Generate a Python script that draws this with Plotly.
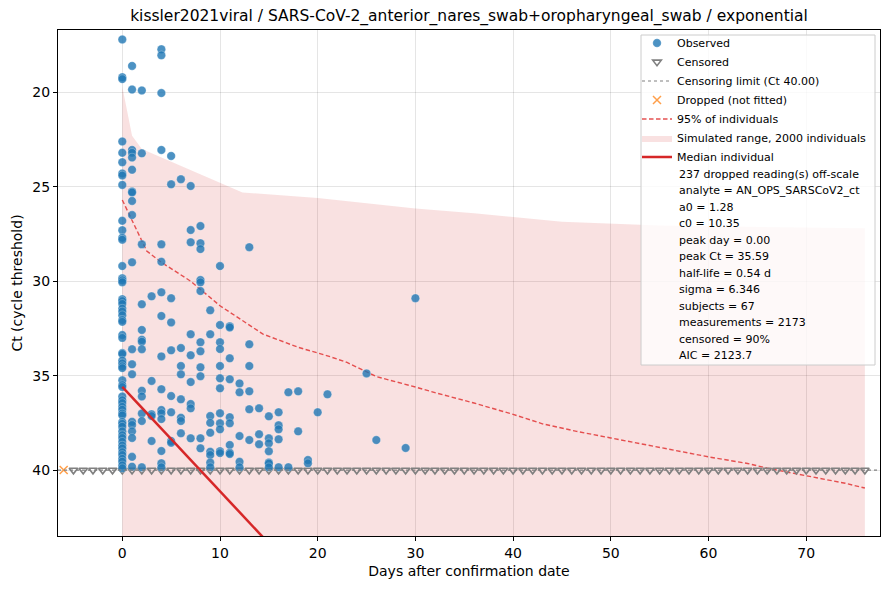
import plotly.graph_objects as go

# Chart text
TITLE = "kissler2021viral / SARS-CoV-2_anterior_nares_swab+oropharyngeal_swab / exponential"
X_TITLE = "Days after confirmation date"
Y_TITLE = "Ct (cycle threshold)"
CENSOR_LIMIT = 40.0

# Observed Ct readings, one list per day after confirmation
ct_d0 = [17.2, 19.2, 19.3, 22.6, 23.2, 23.7, 24.3, 24.4, 24.9, 26.8, 27.3, 27.7, 27.8,
         29.2, 29.85, 29.95, 30.05, 30.95, 31.05, 31.2, 31.45, 31.6, 31.8, 32.05, 32.15,
         32.85, 33.0, 33.8, 33.85, 34.2, 34.35, 34.5, 34.6, 35.25, 35.5, 35.6, 36.1, 36.3,
         36.45, 36.65, 36.8, 37.0, 37.1, 37.45, 37.55, 37.7, 37.95, 38.15, 38.3, 38.5,
         38.7, 38.85, 39.05, 39.2, 39.4, 39.55, 39.75, 39.9]
ct_d1 = [18.6, 19.85, 23.05, 23.2, 23.45, 24.1, 25.25, 25.3, 25.75, 26.5, 29.0, 33.6,
         34.4, 34.93, 37.44, 37.61, 37.95, 38.3, 39.3, 39.82]
ct_d2 = [19.9, 23.23, 28.05, 31.22, 32.58, 33.1, 33.2, 33.6, 35.8, 36.1, 37.0, 37.4, 39.85]
ct_d3 = [30.8, 35.28, 37.05, 37.14, 38.46]
ct_d4 = [17.72, 18.04, 20.04, 23.05, 28.05, 28.97, 30.59, 31.84, 33.98, 35.72, 36.82,
         36.99, 37.3, 38.99, 39.64, 39.85]
ct_d5 = [23.37, 24.87, 30.9, 32.18, 33.66, 36.08, 36.94, 38.46, 38.55]
ct_d6 = [24.6, 33.54, 34.49, 34.93, 36.25, 37.23, 37.4, 38.05]
ct_d7 = [24.96, 27.29, 27.94, 32.81, 33.92, 35.34, 36.5, 36.73, 38.32]
ct_d8 = [27.08, 27.99, 28.3, 29.94, 30.06, 30.52, 33.23, 33.71, 34.56, 35.03, 38.32, 38.85]
ct_d9 = [31.54, 32.81, 37.14, 37.5, 38.02, 39.03, 39.2, 39.6, 39.85]
ct_d10 = [29.2, 32.32, 33.23, 33.59, 34.49, 35.14, 35.67, 36.99, 37.52, 37.84, 39.0, 39.1]
ct_d11 = [32.39, 32.45, 34.08, 35.19, 37.2, 37.52, 38.67, 39.08, 39.15]
ct_d12 = [35.41, 35.88, 38.2, 39.56, 39.85]
ct_d13 = [28.2, 33.34, 34.49, 35.83, 36.78, 38.41]
ct_d14 = [36.73, 38.1, 38.63]
ct_d15 = [37.15, 38.32, 38.58, 39.0, 39.6, 39.65, 39.85]
ct_d16 = [36.94, 37.63, 37.84, 38.37, 39.85]
ct_d17 = [35.88, 39.85]
ct_d18 = [35.83, 37.95]
ct_d19 = [39.47, 39.64]
ct_d20 = [36.94]
ct_d21 = [35.99]
ct_d25 = [34.88]
ct_d26 = [38.41]
ct_d29 = [38.83]
ct_d30 = [30.9]

# Censored readings sit on the limit, one per day
censored_days = list(range(-5, 77))

# Dropped reading (not fitted)
dropped_days = [-6]
dropped_ct = [40.0]

# Simulated individuals: range (top edge read off, bottom edge off-scale)
sim_days = [0, 1, 2, 12.3, 20, 30, 36, 45, 55, 76]
sim_top_ct = [19.7, 22.3, 23.0, 25.3, 25.6, 26.15, 26.4, 26.85, 27.05, 27.2]
sim_bottom_ct = [60, 60, 60, 60, 60, 60, 60, 60, 60, 60]

# 95% of individuals curve
p95_days = [0, 1, 2.5, 4, 7, 10, 12, 14.4, 18, 21, 23, 26, 30, 32, 36, 40, 43, 46.5,
            50, 52, 56, 60, 64, 66, 70, 74, 76]
p95_ct = [25.7, 26.8, 28.4, 29.0, 30.0, 31.3, 32.0, 32.8, 33.5, 33.95, 34.3, 35.05, 35.6,
          35.9, 36.45, 37.05, 37.55, 37.95, 38.3, 38.5, 38.9, 39.3, 39.65, 39.9, 40.3,
          40.7, 40.95]

# Median individual
median_days = [0, 20]
median_ct = [35.59, 46.65]

# Fit summary shown under the legend entries
fit_notes = [
    "237 dropped reading(s) off-scale",
    "analyte = AN_OPS_SARSCoV2_ct",
    "a0 = 1.28",
    "c0 = 10.35",
    "peak day = 0.00",
    "peak Ct = 35.59",
    "half-life = 0.54 d",
    "sigma = 6.346",
    "subjects = 67",
    "measurements = 2173",
    "censored = 90%",
    "AIC = 2123.7",
]

observed = [
    (0, ct_d0), (1, ct_d1), (2, ct_d2), (3, ct_d3), (4, ct_d4), (5, ct_d5),
    (6, ct_d6), (7, ct_d7), (8, ct_d8), (9, ct_d9), (10, ct_d10), (11, ct_d11),
    (12, ct_d12), (13, ct_d13), (14, ct_d14), (15, ct_d15), (16, ct_d16),
    (17, ct_d17), (18, ct_d18), (19, ct_d19), (20, ct_d20), (21, ct_d21),
    (25, ct_d25), (26, ct_d26), (29, ct_d29), (30, ct_d30),
]
obs_x = [d for d, cts in observed for _ in cts]
obs_y = [c for _, cts in observed for c in cts]

FONT = "DejaVu Sans"
RED = "#d62728"

# the page body has an 8px margin, so the figure is 16px smaller than the window
FIG_W, FIG_H = 874, 574
MARGIN = dict(l=50, r=2, t=22, b=46)
PLOT_W = FIG_W - MARGIN["l"] - MARGIN["r"]
PLOT_H = FIG_H - MARGIN["t"] - MARGIN["b"]


def px_to_paper(x_px, y_px):
    """pixel offset from the plot's top-left corner -> paper coords"""
    return x_px / PLOT_W, 1 - y_px / PLOT_H


fig = go.Figure()

# simulated range (drawn first so it sits underneath)
fig.add_trace(go.Scatter(
    x=sim_days + sim_days[::-1],
    y=sim_top_ct + sim_bottom_ct[::-1],
    fill="toself",
    fillcolor="rgba(214,39,40,0.14)",
    line=dict(width=0),
    mode="lines",
    name="Simulated range, 2000 individuals",
    legendrank=6,
    hoverinfo="skip",
))

fig.add_trace(go.Scatter(
    x=p95_days, y=p95_ct, mode="lines",
    line=dict(color="rgba(226,62,62,0.9)", width=1.4, dash="4.5px,2.5px"),
    name="95% of individuals", legendrank=5,
))

fig.add_trace(go.Scatter(
    x=censored_days, y=[CENSOR_LIMIT] * len(censored_days), mode="markers",
    marker=dict(symbol="triangle-down-open", size=7.5, color="#808080",
                line=dict(width=1.6, color="#808080")),
    name="Censored", legendrank=2,
))

fig.add_trace(go.Scatter(
    x=obs_x, y=obs_y, mode="markers",
    marker=dict(size=8.5, color="rgba(31,119,180,0.8)",
                line=dict(width=0.6, color="rgba(255,255,255,0.45)")),
    name="Observed", legendrank=1,
))

fig.add_trace(go.Scatter(
    x=dropped_days, y=dropped_ct, mode="markers",
    marker=dict(symbol="x-thin-open", size=8, color="rgba(255,127,14,0.75)",
                line=dict(width=1.5, color="rgba(255,127,14,0.75)")),
    name="Dropped (not fitted)", legendrank=4,
))

fig.add_trace(go.Scatter(
    x=median_days, y=median_ct, mode="lines",
    line=dict(color=RED, width=2.5),
    name="Median individual", legendrank=7,
))

# censoring limit across the whole axis
fig.add_shape(
    type="line", xref="paper", x0=0, x1=1, yref="y", y0=CENSOR_LIMIT, y1=CENSOR_LIMIT,
    line=dict(color="#808080", width=1.2, dash="dot"),
    layer="above", showlegend=True, name="Censoring limit (Ct 40.00)", legendrank=3,
)

# legend frame (semi-transparent white box like matplotlib's)
bx0, by0 = px_to_paper(583, 5)
bx1, by1 = px_to_paper(817, 335)
fig.add_shape(
    type="rect", xref="paper", yref="paper", x0=bx0, x1=bx1, y0=by1, y1=by0,
    fillcolor="rgba(255,255,255,0.8)", line=dict(color="#cccccc", width=1),
    layer="above",
)

# fit notes as plain text rows below the legend entries
for i, note in enumerate(fit_notes):
    nx, ny = px_to_paper(619, 144 + 16.5 * i)
    fig.add_annotation(
        text=note, xref="paper", yref="paper", x=nx, y=ny,
        xanchor="left", yanchor="middle", showarrow=False,
        font=dict(size=11, color="black"),
    )

lx, ly = px_to_paper(579, -1.5)
fig.update_layout(
    width=FIG_W, height=FIG_H,
    margin=dict(**MARGIN, autoexpand=False),
    paper_bgcolor="white", plot_bgcolor="white",
    font=dict(family=FONT, size=14, color="black"),
    title=dict(text=TITLE, x=0.5, xref="paper", xanchor="center",
               y=1 - 8 / FIG_H, yref="container", yanchor="middle",
               font=dict(size=15.5, color="black")),
    showlegend=True,
    legend=dict(
        x=lx, y=ly, xanchor="left", yanchor="top",
        bgcolor="rgba(0,0,0,0)", borderwidth=0,
        font=dict(size=11, color="black"), itemwidth=30, tracegroupgap=0,
    ),
    xaxis=dict(
        title=dict(text=X_TITLE, standoff=6, font=dict(size=14)),
        range=[-6.58, 77.55], tickmode="array", tickvals=[0, 10, 20, 30, 40, 50, 60, 70],
        tickfont=dict(size=14),
        showgrid=True, gridcolor="rgba(0,0,0,0.1)", gridwidth=1, zeroline=False,
        showline=True, linecolor="black", linewidth=1, mirror=True,
        ticks="outside", ticklen=4, tickcolor="black", automargin=False,
    ),
    yaxis=dict(
        title=dict(text=Y_TITLE, standoff=6, font=dict(size=14)),
        range=[43.49, 16.7], tickmode="array", tickvals=[20, 25, 30, 35, 40],
        tickfont=dict(size=14),
        showgrid=True, gridcolor="rgba(0,0,0,0.1)", gridwidth=1, zeroline=False,
        showline=True, linecolor="black", linewidth=1, mirror=True,
        ticks="outside", ticklen=4, tickcolor="black", automargin=False,
    ),
)

fig.write_html("out.html")
